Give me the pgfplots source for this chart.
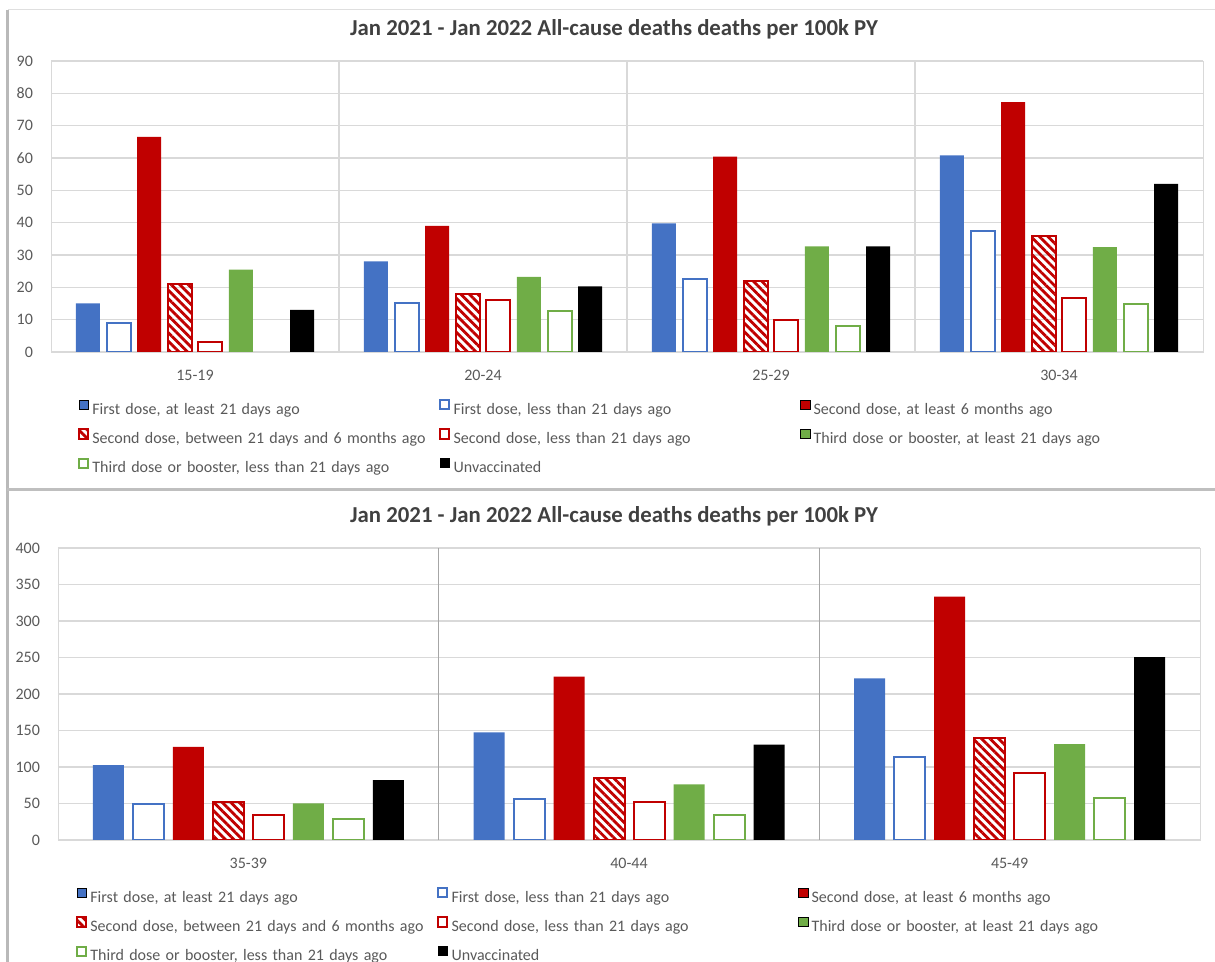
\documentclass[border=0pt]{standalone}
\usepackage{pgfplots}
\pgfplotsset{compat=1.18}
\usepackage{pgfplotstable}
\usepackage{fontspec}
\setmainfont{Carlito}
\usetikzlibrary{patterns.meta}

\definecolor{cBlue}{HTML}{4472C4}
\definecolor{cRed}{HTML}{C00000}
\definecolor{cGreen}{HTML}{70AD47}
\definecolor{cTick}{HTML}{595959}
\definecolor{cGrid}{HTML}{D9D9D9}
\definecolor{cDiv}{HTML}{A6A6A6}
\definecolor{cTitle}{HTML}{404040}

% ages 15-34, deaths per 100k PY
\pgfplotstableread{
x a b c d e f g h
0 15 9 66.5 21 3 25.5 nan 13
1 28 15 39 18 16 23.2 12.8 20.3
2 39.8 22.6 60.4 22 10 32.7 8 32.7
3 60.8 37.4 77.3 36 16.7 32.4 14.7 52
}\topdata

% ages 35-49
\pgfplotstableread{
x a b c d e f g h
0 102.5 49.3 127.5 52 34.7 50 28.3 82
1 147.5 56 223.7 85.4 51.6 76.3 34 130.5
2 221.5 114 333.5 140 92 131.5 57 250.5
}\botdata

\newcommand{\leggap}{\hspace*{1.6pt}}

\pgfplotsset{
  chart/.style={
    scale only axis,
    axis line style={cGrid},
    tick style={draw=none},
    major tick length=0pt,
    ymajorgrids,
    major grid style={cGrid, line width=0.6pt},
    xtick={0,1,2,3},
    font=\fontsize{8}{9.5}\selectfont,
    /pgf/number format/assume math mode=true,
    ticklabel style={text=cTick},
    yticklabel style={xshift=-5.5pt},
    xticklabel style={yshift=-5.3pt},
    extra x tick labels={},
    legend columns=3,
    legend cell align=left,
    legend style={draw=none, fill=none, inner sep=0pt, row sep=5.3pt,
      anchor=north west, at={(0,0)}, text=cTick,
      font=\fontsize{8}{9.5}\selectfont,
      nodes={inner sep=0pt, text height=6pt, text depth=1.8pt},
      /tikz/every odd column/.append style={column sep=0pt},
      /tikz/every even column/.append style={text width=175pt}},
  },
  s1/.style={fill=cBlue, draw=none},
  s2/.style={fill=white, draw=cBlue, line width=1pt},
  s3/.style={fill=cRed, draw=none},
  s4/.style={draw=cRed, line width=1pt,
    pattern={Lines[angle=-45, distance=3pt, line width=1.4pt]}, pattern color=cRed},
  s5/.style={fill=white, draw=cRed, line width=1pt},
  s6/.style={fill=cGreen, draw=none},
  s7/.style={fill=white, draw=cGreen, line width=1pt},
  s8/.style={fill=black, draw=none},
  legtext/.style={legend entries={
    {\leggap First dose, at least 21 days ago},
    {\leggap First dose, less than 21 days ago},
    {\leggap Second dose, at least 6 months ago},
    {\leggap Second dose, between 21 days and 6 months ago},
    {\leggap Second dose, less than 21 days ago},
    {\leggap Third dose or booster, at least 21 days ago},
    {\leggap Third dose or booster, less than 21 days ago},
    {\leggap Unvaccinated}}},
}

\begin{document}
\begin{tikzpicture}
\useasboundingbox (0,0) rectangle (607.5pt,-481pt);
% panel edges of the screenshot
\draw[gray!25, line width=0.5pt] (4pt,-5pt) -- (607.5pt,-5pt);
\draw[gray!55, line width=1.5pt] (3.5pt,-5pt) -- (3.5pt,-481pt);
\draw[gray!50, line width=1.5pt] (3.5pt,-244.5pt) -- (607.5pt,-244.5pt);

\node[anchor=base, font=\fontsize{11.4}{13}\selectfont\bfseries, text=cTitle]
  at (307pt,-18pt) {Jan 2021 - Jan 2022 All-cause deaths deaths per 100k PY};
\node[anchor=base, font=\fontsize{11.4}{13}\selectfont\bfseries, text=cTitle]
  at (307pt,-261pt) {Jan 2021 - Jan 2022 All-cause deaths deaths per 100k PY};

\begin{axis}[chart, legtext,
  at={(25.5pt,-30.5pt)}, anchor=north west,
  width=576pt, height=145.5pt,
  ybar=3.3pt, bar width=12pt,
  legend image code/.code={\draw[#1] (0pt,0.3pt) rectangle (4.6pt,4.9pt);},
  xmin=-0.5, xmax=3.5, ymin=0, ymax=90,
  ytick={0,10,...,90},
  xticklabels={15-19,20-24,25-29,30-34},
  extra x ticks={0.5,1.5,2.5},
  extra x tick style={xmajorgrids, major grid style={cGrid, line width=0.6pt}},
  legend style={xshift=13.3pt, yshift=-23.4pt},
]
\addplot[s1] table[x=x, y=a] {\topdata};
\addplot[s2] table[x=x, y=b] {\topdata};
\addplot[s3] table[x=x, y=c] {\topdata};
\addplot[s4] table[x=x, y=d] {\topdata};
\addplot[s5] table[x=x, y=e] {\topdata};
\addplot[s6] table[x=x, y=f] {\topdata};
\addplot[s7] table[x=x, y=g] {\topdata};
\addplot[s8] table[x=x, y=h] {\topdata};
\end{axis}

\begin{axis}[chart, legtext,
  at={(29pt,-274pt)}, anchor=north west,
  width=571pt, height=146pt,
  ybar=4.5pt, bar width=15.5pt,
  legend image code/.code={\draw[#1] (0pt,0.3pt) rectangle (4.6pt,4.9pt);},
  xmin=-0.5, xmax=2.5, ymin=0, ymax=400,
  ytick={0,50,...,400},
  xtick={0,1,2},
  xticklabels={35-39,40-44,45-49},
  extra x ticks={0.5,1.5},
  extra x tick style={xmajorgrids, major grid style={cDiv, line width=0.6pt}},
  legend style={xshift=8.8pt, yshift=-23.4pt},
]
\addplot[s1] table[x=x, y=a] {\botdata};
\addplot[s2] table[x=x, y=b] {\botdata};
\addplot[s3] table[x=x, y=c] {\botdata};
\addplot[s4] table[x=x, y=d] {\botdata};
\addplot[s5] table[x=x, y=e] {\botdata};
\addplot[s6] table[x=x, y=f] {\botdata};
\addplot[s7] table[x=x, y=g] {\botdata};
\addplot[s8] table[x=x, y=h] {\botdata};
\end{axis}
\end{tikzpicture}
\end{document}
